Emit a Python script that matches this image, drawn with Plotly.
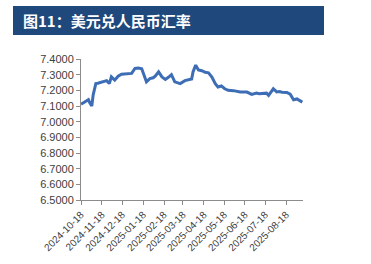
import plotly.graph_objects as go

title = "图11：美元兑人民币汇率"

dates = ["2024-10-18", "2024-10-21", "2024-10-24", "2024-10-29", "2024-10-31", "2024-11-03",
         "2024-11-05", "2024-11-09", "2024-11-12", "2024-11-15", "2024-11-20", "2024-11-25",
         "2024-11-29", "2024-12-02", "2024-12-07", "2024-12-12", "2024-12-17", "2024-12-24",
         "2025-01-01", "2025-01-06", "2025-01-11", "2025-01-16", "2025-01-21", "2025-01-23",
         "2025-01-28", "2025-02-02", "2025-02-05", "2025-02-10", "2025-02-15", "2025-02-20",
         "2025-02-25", "2025-03-01", "2025-03-06", "2025-03-10", "2025-03-14", "2025-03-21",
         "2025-03-26", "2025-03-31", "2025-04-02", "2025-04-06", "2025-04-10", "2025-04-15",
         "2025-04-20", "2025-04-25", "2025-04-30", "2025-05-05", "2025-05-09", "2025-05-14",
         "2025-05-19", "2025-05-24", "2025-06-01", "2025-06-06", "2025-06-11", "2025-06-16",
         "2025-06-21", "2025-06-28", "2025-07-05", "2025-07-09", "2025-07-13", "2025-07-20",
         "2025-07-23", "2025-07-30", "2025-08-04", "2025-08-08", "2025-08-12", "2025-08-19",
         "2025-08-24", "2025-08-29", "2025-09-03", "2025-09-07", "2025-09-11"]
usdcny = [7.112, 7.120, 7.125, 7.140, 7.120, 7.100,
          7.170, 7.243, 7.245, 7.250, 7.255, 7.262,
          7.243, 7.286, 7.265, 7.290, 7.303, 7.306,
          7.308, 7.340, 7.342, 7.338, 7.275, 7.254,
          7.275, 7.280, 7.290, 7.318, 7.286, 7.270,
          7.285, 7.300, 7.254, 7.250, 7.243, 7.262,
          7.268, 7.272, 7.318, 7.361, 7.330, 7.325,
          7.315, 7.312, 7.285, 7.243, 7.221, 7.228,
          7.210, 7.200, 7.198, 7.193, 7.190, 7.190,
          7.189, 7.174, 7.182, 7.178, 7.180, 7.182,
          7.168, 7.210, 7.190, 7.192, 7.188, 7.186,
          7.175, 7.140, 7.145, 7.133, 7.125]

tick_dates = ["2024-10-18", "2024-11-18", "2024-12-18", "2025-01-18", "2025-02-18",
              "2025-03-18", "2025-04-18", "2025-05-18", "2025-06-18", "2025-07-18", "2025-08-18"]
tick_text = ["2024-10-18", "2024-11-18", "2024-12-18", "2025-01-18", "2025-02-18",
             "2025-03-18", "2025-04-18", "2025-05-18", "2025-06-18", "2025-07-18", "2025-08-18"]
y_ticks = [6.5, 6.6, 6.7, 6.8, 6.9, 7.0, 7.1, 7.2, 7.3, 7.4]

fig = go.Figure()
fig.add_trace(go.Scatter(x=dates, y=usdcny, mode="lines",
                         line=dict(color="#3d6db5", width=3), showlegend=False))

fig.add_shape(type="rect", xref="paper", yref="paper",
              x0=(13 - 81) / 222, x1=(324 - 81) / 222,
              y0=(200 - 35) / 141, y1=(200 - 6) / 141,
              fillcolor="#1f497d", line=dict(width=0), layer="above")
fig.add_annotation(text="<b>" + title + "</b>", xref="paper", yref="paper",
                   x=(21 - 81) / 222, y=(200 - 20.5) / 141, xanchor="left", yanchor="middle",
                   showarrow=False,
                   font=dict(family="Noto Sans CJK SC", size=15, color="white"))

fig.update_layout(
    width=371, height=264,
    margin=dict(l=81, r=68, t=59, b=64),
    paper_bgcolor="white", plot_bgcolor="white",
    font=dict(family="Liberation Sans, Arial", color="#404040"),
    xaxis=dict(type="date", range=["2024-10-18", "2025-09-12"],
               tickvals=tick_dates, ticktext=tick_text, tickangle=-45,
               tickfont=dict(size=10, color="#404040"),
               showgrid=False, zeroline=False, showline=True, linecolor="#8c8c8c",
               linewidth=1, ticks="outside", ticklen=4, tickcolor="#8c8c8c"),
    yaxis=dict(range=[6.5, 7.4], tickvals=y_ticks, tickformat=".4f",
               tickfont=dict(size=11, color="#404040"),
               showgrid=False, zeroline=False, showline=True, linecolor="#8c8c8c",
               linewidth=1, ticks="outside", ticklen=4, tickcolor="#8c8c8c"),
)

fig.write_html("out.html")
